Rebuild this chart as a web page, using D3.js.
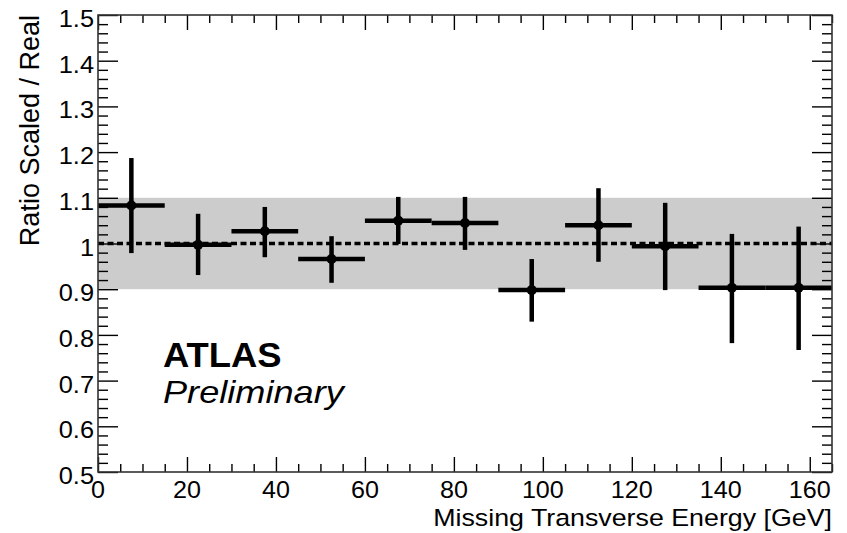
<!DOCTYPE html>
<html lang="en">
<head>
    <meta charset="UTF-8">
    <title>Ratio Scaled / Real</title>
    <script src="https://d3js.org/d3.v7.min.js"></script>
    <style>
        body {
            margin: 0;
            padding: 0;
            background: #fff;
            overflow: hidden;
        }

        text {
            font-family: "Liberation Sans", Arial, Helvetica, sans-serif;
            fill: #000;
        }
    </style>
</head>
<body>
<script>
    // data: 15 GeV bins
    const binLow = [0, 15, 30, 45, 60, 75, 90, 105, 120, 135, 150];
    const binHigh = [15, 30, 45, 60, 75, 90, 105, 120, 135, 150, 165];
    const ratio = [1.083, 0.997, 1.027, 0.966, 1.050, 1.045, 0.898, 1.040, 0.994, 0.903, 0.903];
    const errHigh = [1.187, 1.065, 1.080, 1.016, 1.102, 1.102, 0.966, 1.121, 1.089, 1.021, 1.037];
    const errLow = [0.979, 0.931, 0.970, 0.914, 0.999, 0.986, 0.829, 0.960, 0.898, 0.782, 0.767];

    const band = [0.9, 1.1];
    const refLine = 1.0;

    const xTicks = [0, 20, 40, 60, 80, 100, 120, 140, 160];
    const yTicks = [0.5, 0.6, 0.7, 0.8, 0.9, 1, 1.1, 1.2, 1.3, 1.4, 1.5];
    const yTickLabels = ["0.5", "0.6", "0.7", "0.8", "0.9", "1", "1.1", "1.2", "1.3", "1.4", "1.5"];

    const width = 847, height = 533;
    const margin = { left: 98, top: 15, right: 15, bottom: 61 };

    const svg = d3.select("body").append("svg")
        .attr("width", width)
        .attr("height", height);

    const x = d3.scaleLinear().domain([0, 165]).range([margin.left, width - margin.right]);
    const y = d3.scaleLinear().domain([0.5, 1.5]).range([height - margin.bottom, margin.top]);

    // grey band +-10%
    svg.append("rect")
        .attr("x", x(0))
        .attr("y", y(band[1]))
        .attr("width", x(165) - x(0))
        .attr("height", y(band[0]) - y(band[1]))
        .attr("fill", "#cccccc");

    // data points
    const pts = d3.range(ratio.length).map(i => ({
        lo: binLow[i], hi: binHigh[i], v: ratio[i], eh: errHigh[i], el: errLow[i]
    }));

    const g = svg.append("g");
    g.selectAll(".hbar").data(pts).enter().append("line")
        .attr("x1", d => x(d.lo)).attr("x2", d => x(d.hi))
        .attr("y1", d => y(d.v)).attr("y2", d => y(d.v))
        .attr("stroke", "#000").attr("stroke-width", 4.5);
    g.selectAll(".vbar").data(pts).enter().append("line")
        .attr("x1", d => x((d.lo + d.hi) / 2)).attr("x2", d => x((d.lo + d.hi) / 2))
        .attr("y1", d => y(d.eh)).attr("y2", d => y(d.el))
        .attr("stroke", "#000").attr("stroke-width", 4.5);
    g.selectAll("circle").data(pts).enter().append("circle")
        .attr("cx", d => x((d.lo + d.hi) / 2))
        .attr("cy", d => y(d.v))
        .attr("r", 5)
        .attr("fill", "#000");

    // dashed line at 1
    svg.append("line")
        .attr("x1", x(0)).attr("x2", x(165))
        .attr("y1", y(refLine)).attr("y2", y(refLine))
        .attr("stroke", "#000")
        .attr("stroke-width", 3.5)
        .attr("stroke-dasharray", "6,3.5");

    // axes: ticks pointing inwards on all four sides
    const xMinor = d3.range(0, 166, 5).filter(v => v % 20 !== 0);
    const yMinor = d3.range(0, 51).map(i => 0.5 + i * 0.02).filter((v, i) => i % 5 !== 0);
    const plotW = x(165) - x(0), plotH = y(0.5) - y(1.5);

    function tickAxis(axisFn, scale, values, size, tx, ty) {
        const a = svg.append("g")
            .attr("transform", `translate(${tx},${ty})`)
            .call(axisFn(scale).tickValues(values).tickSize(size).tickFormat(""));
        a.select(".domain").remove();
        a.selectAll(".tick line").attr("stroke", "#000").attr("stroke-width", 1.4);
    }

    tickAxis(d3.axisBottom, x, xTicks, -15, 0, y(0.5));
    tickAxis(d3.axisBottom, x, xMinor, -8, 0, y(0.5));
    tickAxis(d3.axisTop, x, xTicks, -15, 0, y(1.5));
    tickAxis(d3.axisTop, x, xMinor, -8, 0, y(1.5));
    tickAxis(d3.axisLeft, y, yTicks, -20, x(0), 0);
    tickAxis(d3.axisLeft, y, yMinor, -10, x(0), 0);
    tickAxis(d3.axisRight, y, yTicks, -20, x(165), 0);
    tickAxis(d3.axisRight, y, yMinor, -10, x(165), 0);

    // frame
    svg.append("rect")
        .attr("x", x(0)).attr("y", y(1.5))
        .attr("width", plotW).attr("height", plotH)
        .attr("fill", "none")
        .attr("stroke", "#333")
        .attr("stroke-width", 1.6);

    // tick labels (the original is slightly stretched horizontally)
    svg.selectAll(".xlab").data(xTicks).enter().append("text")
        .attr("transform", d => `translate(${x(d)},${y(0.5) + 25.5}) scale(1.07,1)`)
        .attr("text-anchor", "middle")
        .style("font-size", "23.5px")
        .text(d => d);

    svg.selectAll(".ylab").data(yTicks).enter().append("text")
        .attr("transform", d => `translate(${x(0) - 4},${y(d) + 12}) scale(1.08,1)`)
        .attr("text-anchor", "end")
        .style("font-size", "23.5px")
        .text((d, i) => yTickLabels[i]);

    // axis titles
    svg.append("text")
        .attr("transform", `translate(${x(165)},526) scale(1.14,1)`)
        .attr("text-anchor", "end")
        .style("font-size", "23.5px")
        .text("Missing Transverse Energy [GeV]");

    svg.append("text")
        .attr("transform", `translate(39,${y(1.5)}) rotate(-90)`)
        .attr("text-anchor", "end")
        .style("font-size", "27px")
        .text("Ratio Scaled / Real");

    // ATLAS label
    svg.append("text")
        .attr("transform", "translate(163,367) scale(1.04,1)")
        .style("font-size", "35px")
        .style("font-weight", "bold")
        .text("ATLAS");

    svg.append("text")
        .attr("transform", "translate(163,403) scale(1.13,1)")
        .style("font-size", "32px")
        .style("font-style", "italic")
        .text("Preliminary");
</script>
</body>
</html>
